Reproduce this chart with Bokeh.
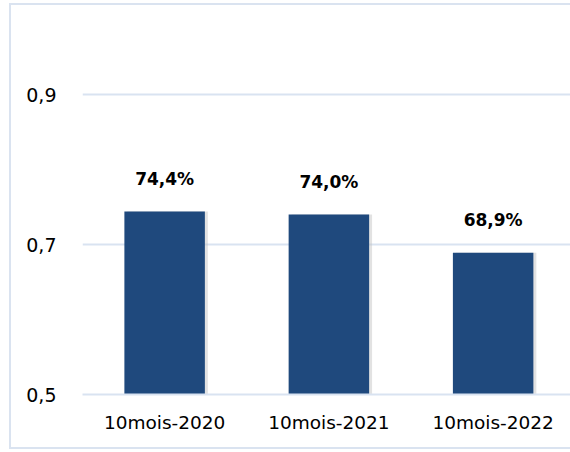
from bokeh.plotting import figure
from bokeh.models import ColumnDataSource, Range1d, FixedTicker, LabelSet
from bokeh.core.properties import value
from bokeh.transform import dodge
from bokeh.embed import file_html
from bokeh.resources import INLINE

categories = ["10mois-2020", "10mois-2021", "10mois-2022"]
values = [0.744, 0.740, 0.689]
value_labels = ["74,4%", "74,0%", "68,9%"]
y_ticks = [0.5, 0.7, 0.9]
y_tick_labels = ["0,5", "0,7", "0,9"]

idx = list(range(len(categories)))
src = ColumnDataSource(dict(x=idx, top=values, lab=value_labels))

FONT = "DejaVu Sans"
GRID = "#d9e3f1"
FRAME = "#dae3f0"

p = figure(width=561, height=446, output_backend="svg", toolbar_location=None,
           x_range=Range1d(-0.5, 2.471), y_range=Range1d(0.5, 1.0),
           min_border_left=73, min_border_right=0, min_border_top=16, min_border_bottom=55)
p.styles = {"margin-left": "9px", "margin-top": "3px",
            "box-shadow": f"inset 2px 2px 0 {FRAME}, inset 0 -2px 0 {FRAME}"}
p.outline_line_color = None
p.background_fill_color = "white"
p.border_fill_color = None

# subtle shadow
p.vbar(x=dodge("x", 0.018), top="top", bottom=0.5, width=0.49, source=src,
       fill_color="#bfbfbf", fill_alpha=0.45, line_color=None)
p.vbar(x="x", top="top", bottom=0.5, width=0.49, source=src,
       fill_color="#1f497d", line_color=None)

labels = LabelSet(x="x", y="top", text="lab", source=src, y_offset=27,
                  text_align="center", text_baseline="alphabetic",
                  text_font=value(FONT), text_font_size="17px", text_font_style="bold",
                  text_color="#000000")
p.add_layout(labels)

p.xgrid.grid_line_color = None
p.ygrid.grid_line_color = GRID
p.ygrid.grid_line_width = 2
p.ygrid.ticker = FixedTicker(ticks=y_ticks)

p.yaxis.ticker = FixedTicker(ticks=y_ticks)
p.yaxis.major_label_overrides = {t: l for t, l in zip(y_ticks, y_tick_labels)}
p.yaxis.axis_line_color = None
p.yaxis.major_tick_line_color = None
p.yaxis.minor_tick_line_color = None
p.yaxis.major_label_standoff = 20
p.yaxis.major_label_text_font = FONT
p.yaxis.major_label_text_font_size = "19px"
p.yaxis.major_label_text_color = "#000000"

p.xaxis.ticker = FixedTicker(ticks=idx)
p.xaxis.major_label_overrides = {i: c for i, c in zip(idx, categories)}
p.xaxis.axis_line_color = GRID
p.xaxis.axis_line_width = 2
p.xaxis.major_tick_line_color = None
p.xaxis.minor_tick_line_color = None
p.xaxis.major_label_standoff = 11
p.xaxis.major_label_text_font = FONT
p.xaxis.major_label_text_font_size = "18.5px"
p.xaxis.major_label_text_color = "#000000"

open("out.html", "w").write(file_html(p, INLINE))
